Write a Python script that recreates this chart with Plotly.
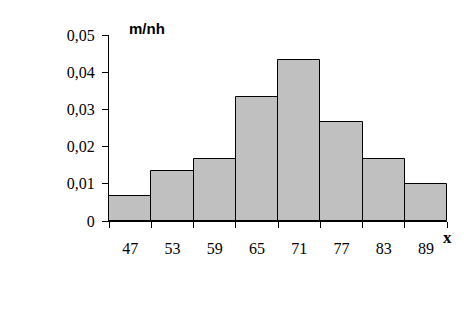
import plotly.graph_objects as go

# data
centers = [47, 53, 59, 65, 71, 77, 83, 89]
counts = [2, 4, 5, 10, 13, 8, 5, 3]
n = 50
h = 6
density = [c / (n * h) for c in counts]
edges = [44, 50, 56, 62, 68, 74, 80, 86, 92]
ytick_vals = [0, 0.01, 0.02, 0.03, 0.04, 0.05]
ytick_text = ["0", "0,01", "0,02", "0,03", "0,04", "0,05"]

serif = "Liberation Serif, Times New Roman, serif"

fig = go.Figure()
fig.add_trace(go.Bar(
    x=centers, y=density, width=[h] * len(centers),
    marker=dict(color="#C0C0C0", line=dict(color="black", width=1)),
    showlegend=False, hoverinfo="skip",
))
# invisible trace for the label axis
fig.add_trace(go.Scatter(x=centers, y=[None] * len(centers), xaxis="x2",
                         showlegend=False, hoverinfo="skip"))

fig.update_layout(
    width=464, height=311,
    margin=dict(l=109, r=17, t=35, b=90),
    paper_bgcolor="white", plot_bgcolor="white",
    bargap=0,
    xaxis=dict(range=[edges[0], edges[-1]], tickvals=edges, ticktext=[""] * len(edges),
               ticks="outside", ticklen=6, tickcolor="black", tickwidth=1,
               showline=True, linecolor="black", linewidth=1,
               showgrid=False, zeroline=False, fixedrange=True),
    xaxis2=dict(overlaying="x", matches="x", side="bottom",
                tickvals=centers, ticktext=[str(c) for c in centers],
                ticks="", showline=False, showgrid=False, zeroline=False,
                ticklabelstandoff=16,
                tickfont=dict(family=serif, size=16, color="black")),
    yaxis=dict(range=[0, 0.05], tickvals=ytick_vals, ticktext=ytick_text,
               ticks="outside", ticklen=6, tickcolor="black", tickwidth=1,
               showline=True, linecolor="black", linewidth=1,
               showgrid=False, zeroline=False,
               ticklabelstandoff=4,
               tickfont=dict(family=serif, size=16, color="black")),
    annotations=[
        dict(text="<b>m/nh</b>", xref="paper", yref="paper", x=0.0535, y=1.037,
             xanchor="left", yanchor="middle", showarrow=False,
             font=dict(family="Liberation Sans, Arial, sans-serif", size=15, color="black")),
        dict(text="<b>x</b>", xref="paper", yref="paper", x=1.0, y=-0.09,
             xanchor="center", yanchor="middle", showarrow=False,
             font=dict(family=serif, size=17, color="black")),
    ],
)

fig.write_html("out.html")
